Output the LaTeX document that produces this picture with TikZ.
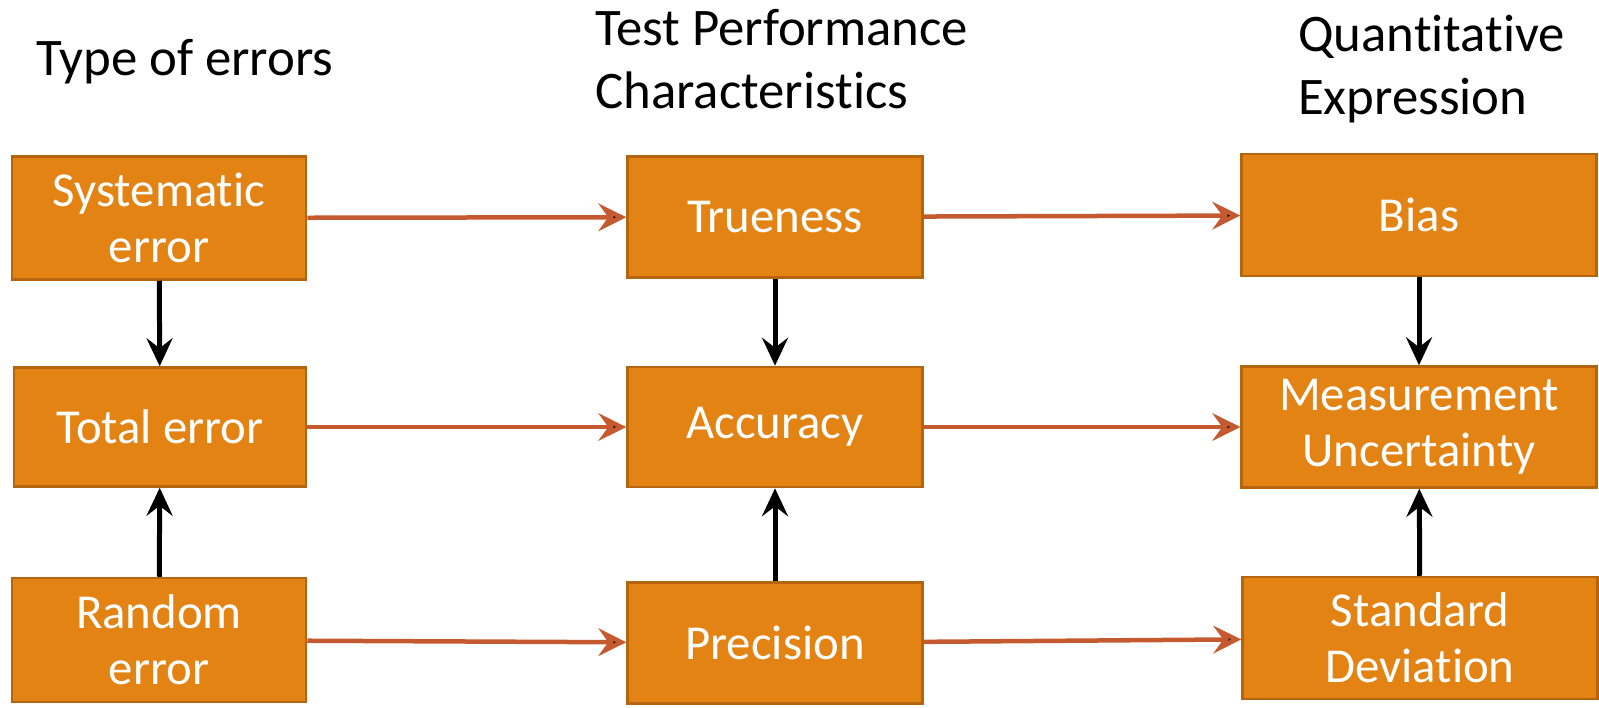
\documentclass[tikz,border=0pt]{standalone}
\usepackage{fontspec}
\setmainfont{Carlito}[Ligatures=NoCommon]
\usetikzlibrary{arrows.meta,positioning,calc}

\definecolor{boxfill}{HTML}{E38314}
\definecolor{boxline}{HTML}{B5650F}
\definecolor{redarrow}{HTML}{C55A30}

\tikzset{
  stagebox/.style={shape=rectangle,draw=boxline,fill=boxfill,line width=2.5bp,
    text=white,align=center,inner sep=0pt,
    font=\fontsize{49}{56}\selectfont},
  headtext/.style={anchor=west,align=left,inner sep=0pt,
    font=\fontsize{53}{63}\selectfont},
  flowarrow/.style={draw=redarrow,line width=4.5bp,
    -{Stealth[length=28bp,width=28bp,inset=10bp]}},
  linkarrow/.style={draw=black,line width=5bp,
    -{Stealth[length=28bp,width=26bp,inset=10bp]}}
}

\begin{document}
\begin{tikzpicture}[x=1bp,y=-1bp]
\useasboundingbox (0,0) rectangle (1599,708);
% column headings
\node[headtext](H1) at (36,62) {Type of errors};
\node[headtext](H2) at (595,59) {Test Performance\\Characteristics};
\node[headtext](H3) at (1298,69) {Quantitative\\Expression};
% boxes
\node[stagebox,minimum width=294bp,minimum height=123bp](SE) at (159,218) {Systematic\\error};
\node[stagebox,minimum width=292bp,minimum height=119bp](TE) at (160,427) {Total error};
\node[stagebox,minimum width=294bp,minimum height=124bp](RE) at (159,640) {Random\\error};
\node[stagebox,minimum width=295bp,minimum height=121bp](Tr) at (775,217) {Trueness};
\node[stagebox,minimum width=295bp,minimum height=120bp](Ac) at (775,427) {Accuracy};
\node[stagebox,minimum width=295bp,minimum height=121bp](Pr) at (775,643) {Precision};
\node[stagebox,minimum width=355bp,minimum height=122bp](Bi) at (1419,215) {Bias};
\node[stagebox,minimum width=355bp,minimum height=121bp](MU) at (1419,427) {Measurement\\Uncertainty};
\node[stagebox,minimum width=355bp,minimum height=122bp](SD) at (1420,638) {Standard\\Deviation};
% horizontal links
\path[flowarrow] (SE) edge node {} (Tr);
\path[flowarrow] (Tr) edge node {} (Bi);
\path[flowarrow] (TE) edge node {} (Ac);
\path[flowarrow] (Ac) edge node {} (MU);
\path[flowarrow] (RE) edge node {} (Pr);
\path[flowarrow] (Pr) edge node {} (SD);
% vertical links
\path[linkarrow] (SE) edge node {} (TE);
\path[linkarrow] (RE) edge node {} (TE);
\path[linkarrow] (Tr) edge node {} (Ac);
\path[linkarrow] (Pr) edge node {} (Ac);
\path[linkarrow] (Bi) edge node {} (MU);
\path[linkarrow] (SD) edge node {} (MU);
\end{tikzpicture}
\end{document}
